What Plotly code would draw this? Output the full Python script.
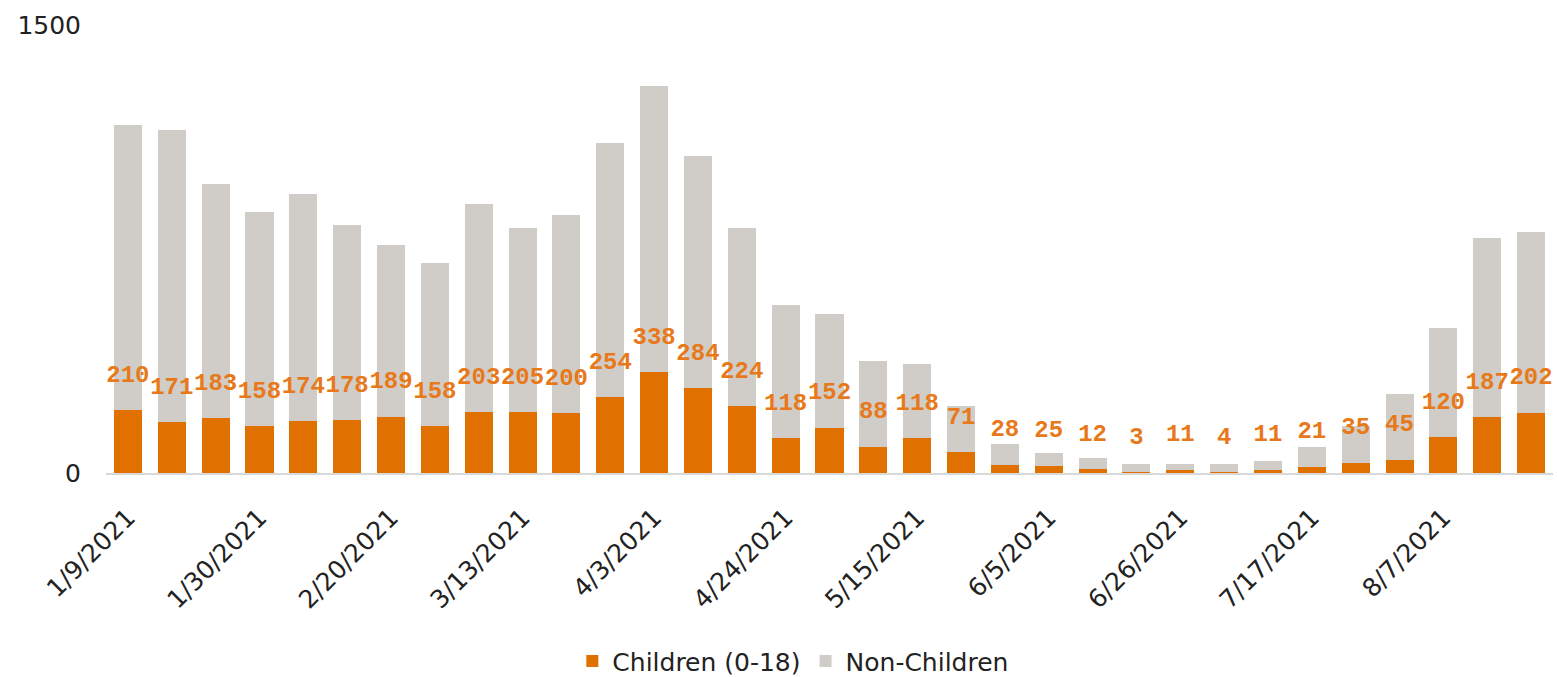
import plotly.graph_objects as go

weeks = ["1/9/2021", "1/16/2021", "1/23/2021", "1/30/2021", "2/6/2021", "2/13/2021",
         "2/20/2021", "2/27/2021", "3/6/2021", "3/13/2021", "3/20/2021", "3/27/2021",
         "4/3/2021", "4/10/2021", "4/17/2021", "4/24/2021", "5/1/2021", "5/8/2021",
         "5/15/2021", "5/22/2021", "5/29/2021", "6/5/2021", "6/12/2021", "6/19/2021",
         "6/26/2021", "7/3/2021", "7/10/2021", "7/17/2021", "7/24/2021", "7/31/2021",
         "8/7/2021", "8/14/2021", "8/21/2021"]

children = [210, 171, 183, 158, 174, 178, 189, 158, 203, 205, 200, 254, 338, 284, 224,
            118, 152, 88, 118, 71, 28, 25, 12, 3, 11, 4, 11, 21, 35, 45, 120, 187, 202]

non_children = [956, 978, 785, 715, 759, 653, 574, 546, 697, 614, 664, 851, 957, 776, 595,
                444, 382, 286, 247, 154, 70, 41, 38, 28, 20, 27, 29, 66, 124, 218, 367, 601, 606]

tick_labels = weeks[::3]
y_ticks = [0, 1500]

ORANGE = "#E07000"
GRAY = "#D0CDC8"
LABEL_ORANGE = "#E8791A"
TEXT = "#222222"

fig = go.Figure()
fig.add_trace(go.Bar(x=weeks, y=children, name="Children (0-18)",
                     marker=dict(color=ORANGE, line=dict(width=0))))
fig.add_trace(go.Bar(x=weeks, y=non_children, name="Non-Children",
                     marker=dict(color=GRAY, line=dict(width=0))))
fig.add_trace(go.Scatter(x=weeks, y=children, mode="markers+text",
                         marker=dict(size=34, opacity=0),
                         text=[str(v) for v in children],
                         textposition="top center",
                         textfont=dict(family="Liberation Mono", size=24, color=LABEL_ORANGE,
                                       weight="bold"),
                         showlegend=False, hoverinfo="skip", cliponaxis=False))

fig.update_layout(
    width=1557, height=677,
    barmode="stack", bargap=0.36,
    plot_bgcolor="white", paper_bgcolor="white",
    margin=dict(l=106, r=4, t=25, b=204, autoexpand=False),
    font=dict(family="DejaVu Sans", color=TEXT),
    legend=dict(orientation="h", x=0.475, xanchor="center", y=-0.42, yanchor="middle",
                font=dict(family="DejaVu Sans", size=25, color=TEXT),
                traceorder="normal", itemwidth=30),
    showlegend=True,
)
fig.update_xaxes(type="category", range=[-0.5, len(weeks) - 0.5],
                 tickmode="array", tickvals=tick_labels, ticktext=tick_labels,
                 tickangle=-45, tickfont=dict(family="DejaVu Sans", size=25, color=TEXT),
                 showline=True, linecolor="#D9D9D9", linewidth=2, showgrid=False,
                 ticks="", ticklabelstandoff=18)
fig.update_yaxes(range=[0, 1500], tickmode="array", tickvals=y_ticks,
                 tickfont=dict(family="DejaVu Sans", size=25, color=TEXT),
                 showgrid=False, zeroline=False, showline=False, ticks="",
                 ticklabelstandoff=24)

fig.write_html("out.html", config={"displayModeBar": False},
               post_script="document.body.style.margin='0';")
